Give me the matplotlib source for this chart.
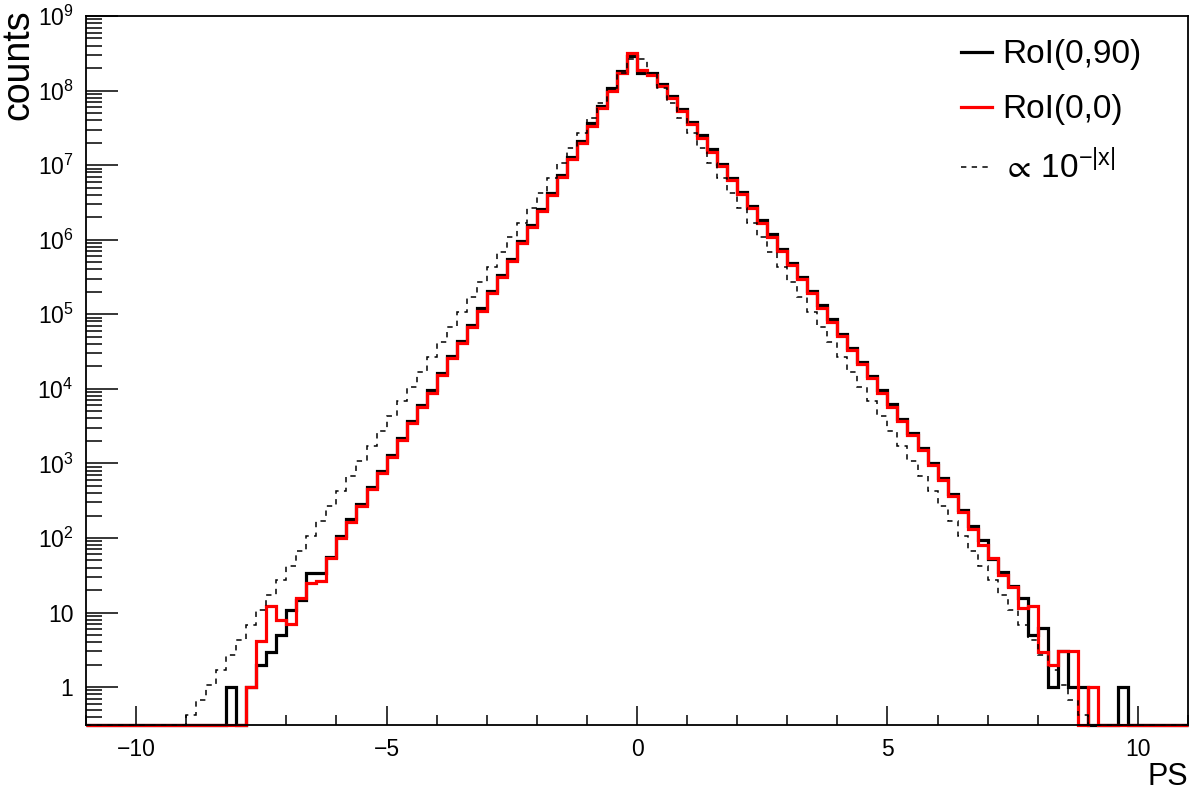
import matplotlib
matplotlib.use("Agg")
import matplotlib.pyplot as plt
import numpy as np
from matplotlib.ticker import FixedLocator, FuncFormatter, LogLocator, NullFormatter

# ----- Data (log10 of counts per 0.2-wide bin, None = empty bin) -----

bin_lo, bin_hi, n_bins = -11.0, 11.0, 110
y_min, y_max = 0.31, 1e9

# RoI(0,90), first bin starts at -8.2
black_start = -8.2
black_log = [
    0.0, None, 0.0, 0.30, 0.47, 0.70, 1.03, 1.17, 1.53, 1.53,
    1.75, 2.02, 2.25, 2.46, 2.68, 2.90, 3.11, 3.34, 3.57, 3.78,
    3.98, 4.21, 4.44, 4.64, 4.86, 5.08, 5.31, 5.53, 5.74, 5.98,
    6.20, 6.41, 6.63, 6.87, 7.11, 7.33, 7.56, 7.79, 8.03, 8.26,
    8.47, 8.24, 8.23, 8.09, 7.93, 7.75, 7.58, 7.40, 7.21, 7.02,
    6.83, 6.64, 6.45, 6.26, 6.07, 5.88, 5.69, 5.50, 5.31, 5.12,
    4.93, 4.74, 4.55, 4.36, 4.17, 3.98, 3.79, 3.60, 3.41, 3.21,
    3.01, 2.81, 2.59, 2.38, 2.16, 1.97, 1.72, 1.54, 1.36, 1.19,
    0.70, 0.79, 0.0, 0.48, 0.0, 0.0, None, None, None, 0.0,
]

# RoI(0,0), first bin starts at -7.8
red_start = -7.8
red_log = [
    0.0, 0.62, 1.09, 0.90, 0.85, 1.19, 1.40, 1.42, 1.73, 2.00,
    2.22, 2.43, 2.65, 2.87, 3.08, 3.31, 3.54, 3.75, 3.95, 4.18,
    4.41, 4.61, 4.83, 5.05, 5.28, 5.50, 5.71, 5.95, 6.17, 6.38,
    6.60, 6.84, 7.08, 7.30, 7.53, 7.76, 8.00, 8.24, 8.51, 8.27,
    8.21, 8.06, 7.90, 7.72, 7.55, 7.37, 7.18, 6.99, 6.80, 6.61,
    6.42, 6.23, 6.04, 5.85, 5.66, 5.47, 5.28, 5.09, 4.90, 4.71,
    4.52, 4.33, 4.14, 3.95, 3.76, 3.57, 3.38, 3.18, 2.98, 2.78,
    2.56, 2.35, 2.12, 1.90, 1.73, 1.50, 1.34, 1.06, 1.09, 0.47,
    0.30, 0.48, 0.48, None, 0.0,
]

# reference shape, first bin starts at -9.0
ref_start = -9.0
ref_log = [
    -0.37, -0.17, 0.03, 0.23, 0.43, 0.63, 0.83, 1.03, 1.23, 1.43,
    1.63, 1.83, 2.03, 2.23, 2.43, 2.63, 2.83, 3.03, 3.23, 3.43,
    3.63, 3.83, 4.03, 4.23, 4.43, 4.63, 4.83, 5.03, 5.23, 5.43,
    5.63, 5.83, 6.03, 6.23, 6.43, 6.63, 6.83, 7.03, 7.23, 7.43,
    7.63, 7.83, 8.03, 8.23, 8.43,
    8.43, 8.23, 8.03, 7.83, 7.63, 7.43, 7.23, 7.03, 6.83, 6.63,
    6.43, 6.23, 6.03, 5.83, 5.63, 5.43, 5.23, 5.03, 4.83, 4.63,
    4.43, 4.23, 4.03, 3.83, 3.63, 3.43, 3.23, 3.03, 2.83, 2.63,
    2.43, 2.23, 2.03, 1.83, 1.63, 1.43, 1.23, 1.03, 0.83, 0.63,
    0.43, 0.23, 0.03, -0.17, -0.37,
]

# ----- Helpers -------------------------------------------------

edges = np.linspace(bin_lo, bin_hi, n_bins + 1)
bin_w = (bin_hi - bin_lo) / n_bins

def full_hist(start, logs):
    # empty bins sit on the bottom of the frame, like ROOT draws them
    counts = np.full(n_bins, y_min)
    first = int(round((start - bin_lo) / bin_w))
    for i, v in enumerate(logs):
        if v is not None:
            counts[first + i] = max(10.0 ** v, y_min)
    return counts

def y_label(v, pos):
    e = int(round(np.log10(v)))
    if e == 0:
        return "1"
    if e == 1:
        return "10"
    return r"$10^{%d}$" % e

# ----- Plot -------------------------------------------------

plt.rcParams['font.family'] = 'Liberation Sans'
plt.rcParams['mathtext.fontset'] = 'custom'
plt.rcParams['mathtext.rm'] = 'Liberation Sans'
plt.rcParams['mathtext.it'] = 'Liberation Sans:italic'
plt.rcParams['mathtext.default'] = 'regular'

fig = plt.figure(figsize=(12, 7.98), dpi=100)
ax = fig.add_axes([86/1200, 1 - 725/798, 1102/1200, 709/798])

ax.stairs(full_hist(black_start, black_log), edges, baseline=None,
          color='black', lw=2.3, clip_on=False, label='RoI(0,90)')
ax.stairs(full_hist(red_start, red_log), edges, baseline=None,
          color='#ff0000', lw=2.3, clip_on=False, label='RoI(0,0)')
ax.stairs(full_hist(ref_start, ref_log), edges, baseline=None,
          color='black', lw=1.1, ls=(0, (3.5, 3.5)), clip_on=False,
          label=r'$\propto\,$10$^{-|x|}$')

ax.set_yscale('log')
ax.set_xlim(bin_lo, bin_hi)
ax.set_ylim(y_min, y_max)

ax.xaxis.set_major_locator(FixedLocator([-10, -5, 0, 5, 10]))
ax.xaxis.set_minor_locator(FixedLocator(np.arange(-11, 12, 1)))
ax.yaxis.set_major_locator(LogLocator(base=10, numticks=20))
ax.yaxis.set_minor_locator(LogLocator(base=10, subs=np.arange(2, 10), numticks=20))
ax.yaxis.set_major_formatter(FuncFormatter(y_label))
ax.yaxis.set_minor_formatter(NullFormatter())

ax.tick_params(axis='x', which='major', direction='in', length=14, width=1.1,
               labelsize=16.5, pad=9, top=False)
ax.tick_params(axis='x', which='minor', direction='in', length=7, width=1.1, top=False)
ax.tick_params(axis='y', which='major', direction='in', length=23, width=1.1,
               labelsize=16.5, pad=9, right=False)
ax.tick_params(axis='y', which='minor', direction='in', length=11.5, width=1.1, right=False)
for s in ax.spines.values():
    s.set_linewidth(1.3)

# axis titles, placed as ROOT does: top of the y axis, right end of the x axis
fig.text(18/1200, 1 - 9/798, 'counts', rotation=90, ha='center', va='top', fontsize=27)
ax.set_xlabel('PS', fontsize=22, loc='right')
ax.xaxis.set_label_coords(1.0, -0.052)

ax.legend(loc='upper right', bbox_to_anchor=(0.958, 0.967), frameon=False,
          fontsize=24, handlelength=0.95, handletextpad=0.3, labelspacing=0.72,
          borderaxespad=0, borderpad=0)

plt.savefig('out.png', dpi=100)
